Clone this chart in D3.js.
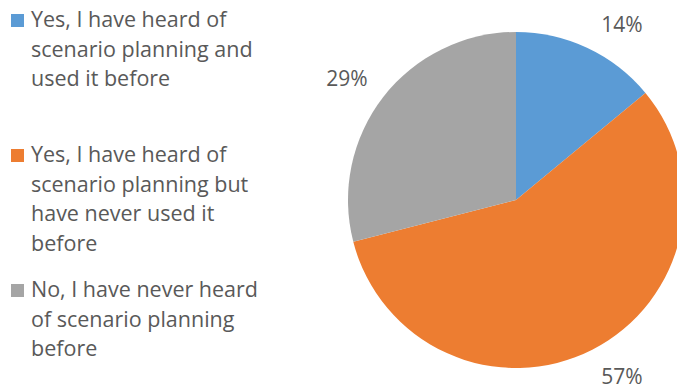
<!DOCTYPE html>
<html>
<head>
<meta charset="utf-8">
<script src="https://cdn.jsdelivr.net/npm/d3@7"></script>
<style>
  html, body { margin: 0; padding: 0; background: #fff; }
  svg text { font-family: "Open Sans", "Noto Sans", sans-serif; fill: #595959; }
</style>
</head>
<body>
<svg id="chart" width="678" height="389"></svg>
<script>
// Survey answers and their shares (percent)
const categories = [
  "Yes, I have heard of scenario planning and used it before",
  "Yes, I have heard of scenario planning but have never used it before",
  "No, I have never heard of scenario planning before"
];
const legendLines = [
  ["Yes, I have heard of", "scenario planning and", "used it before"],
  ["Yes, I have heard of", "scenario planning but", "have never used it", "before"],
  ["No, I have never heard", "of scenario planning", "before"]
];
const values = [14, 57, 29];
const valueLabels = ["14%", "57%", "29%"];
const colors = ["#5B9BD5", "#ED7D31", "#A5A5A5"];

const svg = d3.select("#chart");
const W = 678, H = 389;

const cx = 516, cy = 200, radius = 168;

svg.append("defs").append("clipPath").attr("id", "plotClip")
  .append("rect").attr("x", 0).attr("y", 0).attr("width", 677).attr("height", H);

const pie = d3.pie().sort(null).value(d => d);
const arcs = pie(values);
const arc = d3.arc().innerRadius(0).outerRadius(radius);

const g = svg.append("g").attr("clip-path", "url(#plotClip)")
  .append("g").attr("transform", `translate(${cx},${cy})`);

g.selectAll("path").data(arcs).enter().append("path")
  .attr("d", arc)
  .attr("fill", (d, i) => colors[i]);

// Percentage labels outside each slice
const labelPos = [[622, 32], [622, 384], [347, 86]];
svg.selectAll("text.pct").data(arcs).enter().append("text")
  .attr("class", "pct")
  .attr("x", (d, i) => labelPos[i][0])
  .attr("y", (d, i) => labelPos[i][1])
  .attr("text-anchor", "middle")
  .attr("font-size", 21)
  .text((d, i) => valueLabels[i]);

// Legend
const legendTop = [27, 162, 297];
const lineH = 29.5;
const fontSize = 21.5;
const leg = svg.append("g");
categories.forEach((c, i) => {
  const y0 = legendTop[i];
  leg.append("rect")
    .attr("x", 11).attr("y", y0 - 13)
    .attr("width", 13).attr("height", 13)
    .attr("fill", colors[i]);
  const t = leg.append("text")
    .attr("x", 31).attr("y", y0)
    .attr("font-size", fontSize);
  legendLines[i].forEach((ln, j) => {
    t.append("tspan").attr("x", 31).attr("y", y0 + j * lineH).text(ln);
  });
});
</script>
</body>
</html>
